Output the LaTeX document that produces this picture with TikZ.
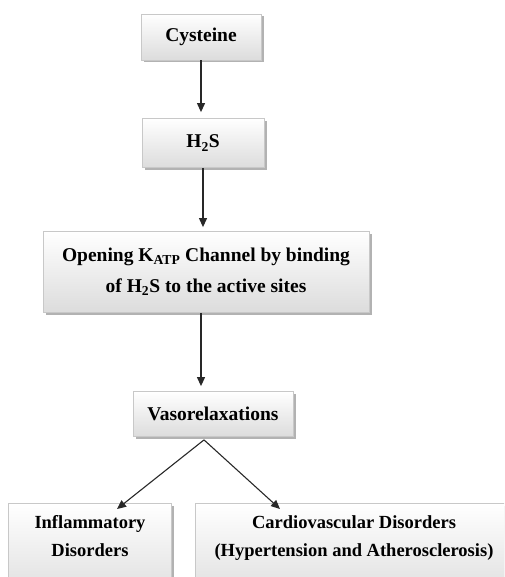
\documentclass[tikz,border=0pt]{standalone}
\usepackage{fontspec}
\setmainfont{Liberation Serif}
\usetikzlibrary{arrows.meta, shadows}

\definecolor{boxline}{RGB}{200, 200, 200}
\definecolor{boxshade}{RGB}{220, 220, 220}
\definecolor{arrowgray}{RGB}{40, 40, 40}

\begin{document}
\begin{tikzpicture}[x=1pt, y=-1pt,
    stage/.style={draw=boxline, line width=0.8pt, top color=white, bottom color=boxshade,
        drop shadow={shadow xshift=2.5pt, shadow yshift=-2.5pt, fill=black!30, opacity=1},
        inner sep=0pt},
    stagetext/.style={font=\bfseries\fontsize{19.5}{31}\selectfont, align=center},
    outtext/.style={font=\bfseries\fontsize{18.5}{28}\selectfont, align=center},
    flow/.style={draw=arrowgray, line width=1.1pt, -{Triangle[length=9pt, width=8pt]}}]
    \useasboundingbox (0,0) rectangle (504,577);
    \clip (0,0) rectangle (504,577);

    % pathway, top to bottom
    \node[stage, stagetext, minimum width=120pt, minimum height=46pt] (cys) at (201,37) {Cysteine};
    \node[stage, stagetext, minimum width=122pt, minimum height=49pt] (hs) at (203,143) {H\textsubscript{2}S};
    \node[stage, stagetext, minimum width=326pt, minimum height=81pt] (katp) at (206,272)
        {Opening K\textsubscript{ATP} Channel by binding\\ of H\textsubscript{2}S to the active sites};
    \node[stage, stagetext, minimum width=160pt, minimum height=45pt] (vaso) at (213,414) {Vasorelaxations};

    % the two outcomes run off the bottom edge
    \node[stage, anchor=north, minimum width=163pt, minimum height=100pt] (infl) at (90,503) {};
    \node[stage, anchor=north, minimum width=318pt, minimum height=100pt] (cardio) at (354,503) {};
    \node[outtext, anchor=north] (infltext) at ([yshift=-9pt]infl.north)
        {Inflammatory\\ Disorders};
    \node[outtext, anchor=north] (cardiotext) at ([yshift=-9pt]cardio.north)
        {Cardiovascular Disorders\\ (Hypertension and Atherosclerosis)};

    \draw[flow, shorten >=6pt] (cys.south) -- (cys.south |- hs.north);
    \draw[flow, shorten >=4pt] (hs.south) -- (hs.south |- katp.north);
    \draw[flow, shorten >=5pt] ([xshift=-5pt]katp.south) -- ([xshift=-5pt]katp.south |- vaso.north);
    \draw[flow] ([xshift=-9pt, yshift=-3pt]vaso.south) -- ([xshift=27pt, yshift=-6pt]infl.north);
    \draw[flow] ([xshift=-9pt, yshift=-3pt]vaso.south) -- ([xshift=-74pt, yshift=-6pt]cardio.north);
\end{tikzpicture}
\end{document}
